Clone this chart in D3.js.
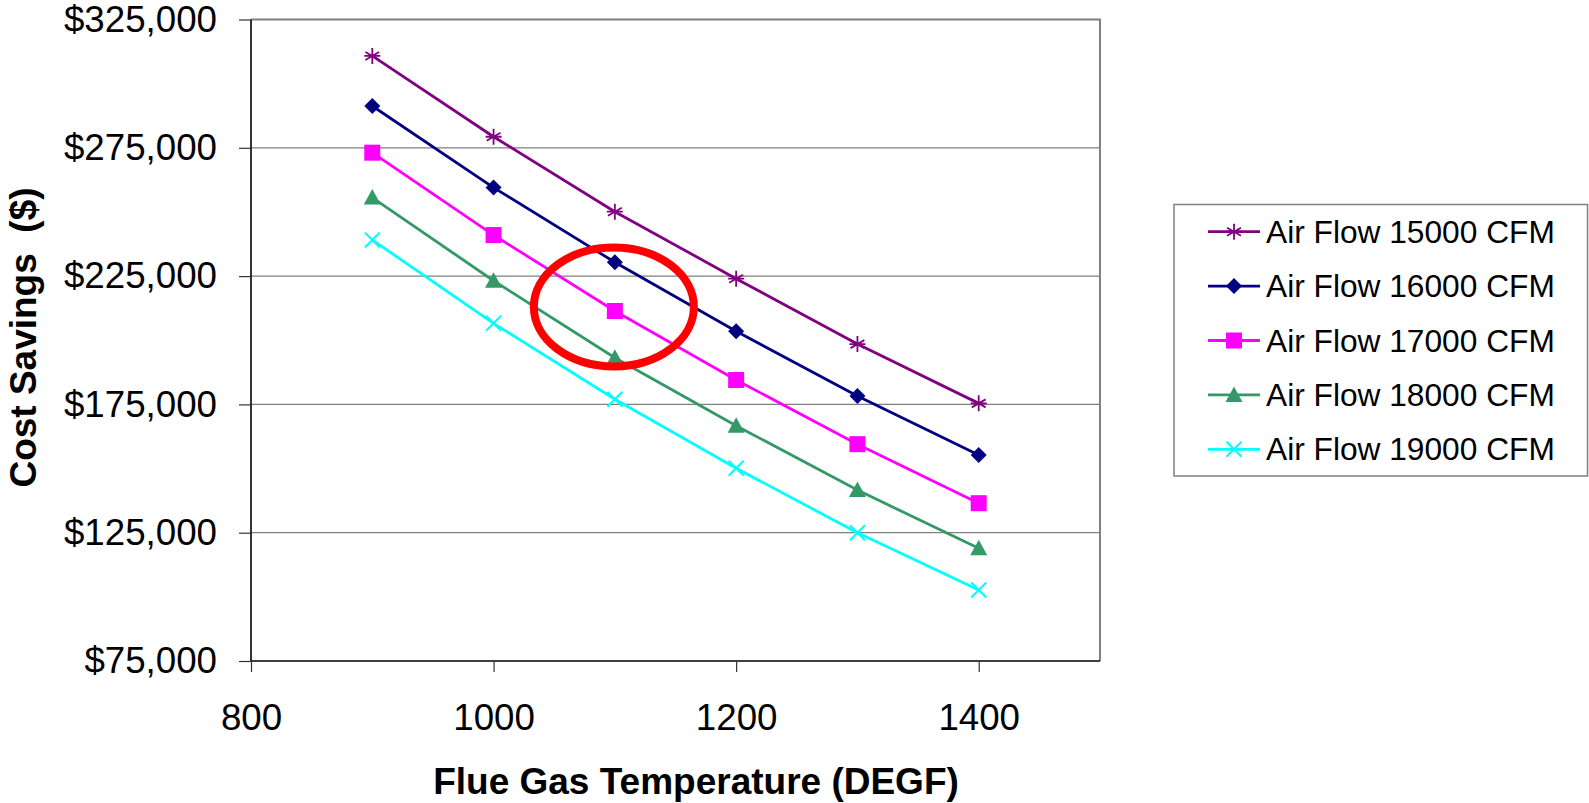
<!DOCTYPE html>
<html>
<head>
<meta charset="utf-8">
<script src="https://cdn.jsdelivr.net/npm/d3@7"></script>
<style>
  html, body { margin: 0; padding: 0; background: #fff; }
  svg { display: block; font-family: "Liberation Sans", Arial, sans-serif; }
</style>
</head>
<body>
<svg id="stage" width="1589" height="803"></svg>
<script>
// Chart data
const temperatures = [900, 1000, 1100, 1200, 1300, 1400];
const seriesNames = [
  "Air Flow 15000 CFM",
  "Air Flow 16000 CFM",
  "Air Flow 17000 CFM",
  "Air Flow 18000 CFM",
  "Air Flow 19000 CFM",
];
const flow15000 = [310800, 279300, 250100, 224000, 198500, 175400];
const flow16000 = [291300, 259500, 230400, 203500, 178300, 155300];
const flow17000 = [273100, 241000, 211400, 184500, 159500, 136500];
const flow18000 = [255600, 223200, 193200, 166700, 141600, 118900];
const flow19000 = [239100, 206600, 177000, 150100, 125000, 102700];
const xTicks = [800, 1000, 1200, 1400];
const yTicks = [75000, 125000, 175000, 225000, 275000, 325000];
// highlighted point (circled in red)
const highlight = { x: 1100, y: 213000 };

const seriesValues = [flow15000, flow16000, flow17000, flow18000, flow19000];
const colors = ["#800080", "#000080", "#ff00ff", "#339966", "#00ffff"];
const markers = ["asterisk", "diamond", "square", "triangle", "cross"];

const svg = d3.select("#stage");

// plot area
const plotLeft = 251, plotRight = 1100, plotTop = 19.5, plotBottom = 661;

const x = d3.scaleLinear().domain([800, 1500]).range([plotLeft, plotRight]);
const y = d3.scaleLinear().domain([75000, 325000]).range([plotBottom, plotTop]);

// gridlines
svg.append("g")
  .selectAll("line")
  .data(yTicks.slice(1, -1))
  .enter()
  .append("line")
  .attr("x1", plotLeft)
  .attr("x2", plotRight)
  .attr("y1", (d) => y(d))
  .attr("y2", (d) => y(d))
  .attr("stroke", "#808080")
  .attr("stroke-width", 1.2);

// plot border (top, right)
svg.append("path")
  .attr("d", `M${plotLeft},${plotTop}H${plotRight}V${plotBottom}`)
  .attr("fill", "none")
  .attr("stroke", "#808080")
  .attr("stroke-width", 2);

// axes
const yAxis = d3.axisLeft(y)
  .tickValues(yTicks)
  .tickFormat(d3.format("$,.0f"))
  .tickSize(12)
  .tickPadding(22);
const yG = svg.append("g").attr("transform", `translate(${plotLeft},0)`).call(yAxis);

const xAxis = d3.axisBottom(x)
  .tickValues(xTicks)
  .tickFormat(d3.format("d"))
  .tickSize(11)
  .tickPadding(32);
const xG = svg.append("g").attr("transform", `translate(0,${plotBottom})`).call(xAxis);

[yG, xG].forEach((g) => {
  g.select(".domain").attr("stroke", "#000").attr("stroke-width", 1.6);
  g.selectAll(".tick line").attr("stroke", "#333").attr("stroke-width", 1.2);
  g.selectAll(".tick text")
    .attr("fill", "#000")
    .style("font-size", "36.7px")
    .style("font-family", '"Liberation Sans", Arial, sans-serif');
});
// plain axis lines, no outer ticks
yG.select(".domain").attr("d", `M0,${plotTop}V${plotBottom}`);
xG.select(".domain").attr("d", `M${plotLeft},0H${plotRight}`);

// axis titles
svg.append("text")
  .attr("x", 696)
  .attr("y", 794)
  .attr("text-anchor", "middle")
  .style("font-size", "37px")
  .style("font-weight", "bold")
  .text("Flue Gas Temperature (DEGF)");

svg.append("text")
  .attr("transform", "translate(35.5,337.5) rotate(-90)")
  .attr("text-anchor", "middle")
  .style("font-size", "37px")
  .style("font-weight", "bold")
  .style("white-space", "pre")
  .text("Cost Savings  ($)");

// marker drawing
const drawMarker = (g, type, color) => {
  if (type === "asterisk") {
    const r = 8;
    const d = [0, 60, 120].map((a) => {
      const t = (a * Math.PI) / 180;
      return `M${-r * Math.sin(t)},${-r * Math.cos(t)}L${r * Math.sin(t)},${r * Math.cos(t)}`;
    }).join("") + `M${-r},0L${r},0`;
    g.append("path").attr("d", d).attr("stroke", color).attr("stroke-width", 1.8).attr("fill", "none");
  } else if (type === "diamond") {
    g.append("path").attr("d", "M0,-8L8,0L0,8L-8,0Z").attr("fill", color);
  } else if (type === "square") {
    g.append("rect").attr("x", -8).attr("y", -8).attr("width", 16).attr("height", 16).attr("fill", color);
  } else if (type === "triangle") {
    g.append("path").attr("d", "M0,-8.5L8.5,7L-8.5,7Z").attr("fill", color);
  } else if (type === "cross") {
    g.append("path").attr("d", "M-7.5,-7.5L7.5,7.5M-7.5,7.5L7.5,-7.5")
      .attr("stroke", color).attr("stroke-width", 2).attr("fill", "none");
  }
};

const line = d3.line()
  .x((d) => x(d[0]))
  .y((d) => y(d[1]));

seriesValues.forEach((vals, i) => {
  const pts = temperatures.map((t, j) => [t, vals[j]]);
  const g = svg.append("g");
  g.append("path")
    .datum(pts)
    .attr("d", line)
    .attr("fill", "none")
    .attr("stroke", colors[i])
    .attr("stroke-width", 2.8);
  g.selectAll("g.marker")
    .data(pts)
    .enter()
    .append("g")
    .attr("class", "marker")
    .attr("transform", (d) => `translate(${x(d[0])},${y(d[1])})`)
    .each(function () {
      drawMarker(d3.select(this), markers[i], colors[i]);
    });
});

// red highlight ellipse
svg.append("ellipse")
  .attr("cx", x(highlight.x) - 1)
  .attr("cy", y(highlight.y))
  .attr("rx", 80)
  .attr("ry", 59.5)
  .attr("fill", "none")
  .attr("stroke", "#ff0000")
  .attr("stroke-width", 8);

// legend
const legend = svg.append("g");
legend.append("rect")
  .attr("x", 1174)
  .attr("y", 204.5)
  .attr("width", 413.5)
  .attr("height", 271.5)
  .attr("fill", "#fff")
  .attr("stroke", "#808080")
  .attr("stroke-width", 1.5);

const rowY = d3.scaleLinear().domain([0, 4]).range([231.7, 449.3]);
seriesNames.forEach((name, i) => {
  const row = legend.append("g").attr("transform", `translate(0,${rowY(i)})`);
  row.append("line")
    .attr("x1", 1208).attr("x2", 1260)
    .attr("stroke", colors[i]).attr("stroke-width", 2.8);
  drawMarker(row.append("g").attr("transform", "translate(1234,0)"), markers[i], colors[i]);
  row.append("text")
    .attr("x", 1266)
    .attr("dy", "0.35em")
    .style("font-size", "31.7px")
    .text(name);
});
</script>
</body>
</html>
